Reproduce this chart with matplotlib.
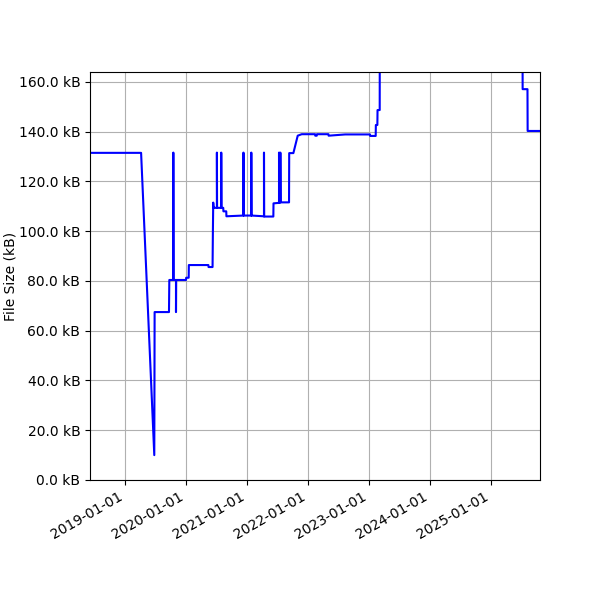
import pandas as pd
import matplotlib
matplotlib.use('Agg')
from matplotlib import pyplot as plt
from matplotlib import dates as mdates
from matplotlib.ticker import FuncFormatter

# file size history (kB)
dates = [
    '2018-06-05', '2019-04-07', '2019-06-25', '2019-06-27', '2019-09-21', '2019-09-23',
    '2019-10-17', '2019-10-17', '2019-10-18', '2019-11-02', '2019-11-02', '2019-11-03',
    '2020-01-01', '2020-01-02', '2020-01-17', '2020-01-18', '2020-05-14', '2020-05-15',
    '2020-06-08', '2020-06-10', '2020-06-12', '2020-06-14', '2020-06-18',
    '2020-07-04', '2020-07-04', '2020-07-05', '2020-07-30', '2020-07-30', '2020-07-31',
    '2020-08-11', '2020-08-12', '2020-08-29', '2020-08-30',
    '2020-12-10', '2020-12-10', '2020-12-11', '2021-01-26', '2021-01-26', '2021-01-27',
    '2021-04-12', '2021-04-12', '2021-04-13', '2021-06-07', '2021-06-08',
    '2021-07-11', '2021-07-11', '2021-07-12', '2021-07-19', '2021-07-19', '2021-07-20',
    '2021-09-09', '2021-09-10', '2021-10-05', '2021-10-31', '2021-11-24',
    '2022-02-12', '2022-02-13', '2022-02-22', '2022-02-23', '2022-05-03', '2022-05-04',
    '2022-08-11', '2023-01-07', '2023-01-08', '2023-02-10', '2023-02-11', '2023-02-20',
    '2023-02-21', '2023-03-06', '2023-03-07', '2025-07-08', '2025-07-09', '2025-08-07',
    '2025-08-08', '2025-10-21',
]
sizes_kb = [
    131.5, 131.5, 10.0, 67.5, 67.5, 80.4,
    80.4, 131.6, 80.4, 80.4, 67.5, 80.4,
    80.4, 81.3, 81.3, 86.4, 86.4, 85.6,
    85.6, 100.0, 111.5, 109.5, 109.4,
    109.4, 131.6, 109.4, 109.4, 131.6, 109.4,
    109.4, 108.0, 108.0, 106.0,
    106.3, 131.6, 106.3, 106.3, 131.6, 106.3,
    106.0, 131.6, 105.9, 105.9, 111.2,
    111.4, 131.6, 111.4, 111.6, 131.6, 111.6,
    111.6, 131.4, 131.4, 138.4, 139.0,
    139.0, 138.4, 138.4, 139.0, 139.0, 138.4,
    138.9, 138.9, 138.3, 138.3, 142.7, 142.7,
    148.7, 148.7, 210.0, 210.0, 157.1, 157.1,
    140.3, 140.3,
]

if __name__ == '__main__':
    x = pd.to_datetime(dates)

    fig = plt.figure(figsize=(6, 6), dpi=100)
    ax = fig.add_subplot(111)
    ax.plot(x, sizes_kb, color='blue', linewidth=1.5)

    ax.set_xlim(x[0], x[-1])
    ax.set_ylim(0, 164)
    ax.set_ylabel('File Size (kB)', labelpad=1)
    ax.yaxis.set_major_formatter(FuncFormatter(lambda v, _: f'{v:.1f} kB'))
    ax.xaxis.set_major_locator(mdates.YearLocator())
    ax.xaxis.set_major_formatter(mdates.DateFormatter('%Y-%m-%d'))
    ax.grid(True)

    fig.autofmt_xdate()
    fig.subplots_adjust(left=0.15, right=0.9, top=0.88)
    fig.savefig('out.png')
